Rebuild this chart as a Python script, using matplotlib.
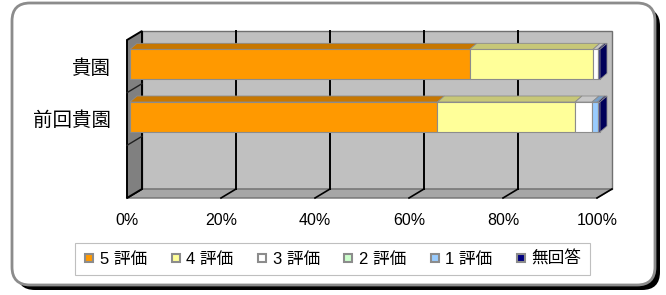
import numpy as np
import matplotlib.pyplot as plt
from matplotlib.patches import Polygon, FancyBboxPatch
from matplotlib.lines import Line2D
from matplotlib.transforms import IdentityTransform
from matplotlib.colors import to_rgb

plt.rcParams['font.family'] = ['Liberation Sans', 'Noto Sans CJK JP']

# data
categories = ['貴園', '前回貴園']
series_labels = ['5 評価', '4 評価', '3 評価', '2 評価', '1 評価', '無回答']
s5 = [72.3, 65.4]
s4 = [26.2, 29.3]
s3 = [1.0, 3.6]
s2 = [0.0, 0.0]
s1 = [0.0, 1.2]
s0 = [0.5, 0.5]
series = [s5, s4, s3, s2, s1, s0]
colors = ['#FF9900', '#FFFF99', '#FFFFFF', '#CCFFCC', '#99CCFF', '#000080']
xticks = [0, 20, 40, 60, 80, 100]

W, H = 666, 295
fig = plt.figure(figsize=(W / 100, H / 100), dpi=100)

# rounded frame with shadow (behind the axes)
shadow = FancyBboxPatch((17, H - 290), 643, 282, boxstyle='round,pad=0,rounding_size=18',
                        transform=IdentityTransform(), fc='black', ec='none', zorder=-2)
fig.add_artist(shadow)
frame = FancyBboxPatch((12, H - 285), 643, 282, boxstyle='round,pad=0,rounding_size=18',
                       transform=IdentityTransform(), fc='white', ec='#8c8c8c', lw=2, zorder=-1)
fig.add_artist(frame)

ax = fig.add_axes([127 / W, 1 - 198 / H, 470 / W, 158 / H])
ax.set_xlim(0, 100)
ax.set_ylim(2.5, -0.5)
ax.patch.set_visible(False)
for sp in ax.spines.values():
    sp.set_visible(False)

PX_X = 100 / 470
PX_Y = 3 / 158

# 3d walls
WDX, WDY = 15 * PX_X, -9 * PX_Y
def poly(pts, **kw):
    p = Polygon(pts, closed=True, clip_on=False, **kw)
    ax.add_patch(p)
    return p

poly([(WDX, -0.5 + WDY), (100 + WDX, -0.5 + WDY), (100 + WDX, 2.5 + WDY), (WDX, 2.5 + WDY)],
     fc='#c0c0c0', ec='#707070', lw=1, zorder=0)
poly([(0, 2.5), (100, 2.5), (100 + WDX, 2.5 + WDY), (WDX, 2.5 + WDY)],
     fc='#a6a6a6', ec='#707070', lw=1, zorder=0.5)
for t in xticks:
    if 0 < t < 100:
        ax.plot([t + WDX, t + WDX], [-0.5 + WDY, 2.5 + WDY], color='black', lw=1.4,
                zorder=1, clip_on=False)
    ax.plot([t + WDX, t], [2.5 + WDY, 2.5], color='black', lw=1.2, zorder=1, clip_on=False)
poly([(0, -0.5), (WDX, -0.5 + WDY), (WDX, 2.5 + WDY), (0, 2.5)],
     fc='#808080', ec='black', lw=1.4, zorder=1.5)
for yb in [0.5, 1.5]:
    ax.plot([0, WDX], [yb, yb + WDY], color='#202020', lw=1, zorder=1.6, clip_on=False)

# bars
BAR_H = 30 * PX_Y
BX, BY = 3 * PX_X, -2 * PX_Y
BDX, BDY = 7 * PX_X, -6 * PX_Y

def darker(c, f=0.78):
    r, g, b = to_rgb(c)
    return (r * f, g * f, b * f)

for i in range(len(categories)):
    yc = i + BY
    top, bot = yc - BAR_H / 2, yc + BAR_H / 2
    left = 0
    last = None
    for vals, c in zip(series, colors):
        w = vals[i]
        if w <= 0:
            continue
        ax.barh(yc, w, left=left + BX, height=BAR_H, color=c, edgecolor='#8c8c8c',
                lw=0.8, zorder=3, clip_on=False)
        x0, x1 = left + BX, left + w + BX
        poly([(x0, top), (x1, top), (x1 + BDX, top + BDY), (x0 + BDX, top + BDY)],
             fc=darker(c), ec='#8c8c8c', lw=0.6, zorder=3)
        left += w
        last = c
    xr = left + BX
    poly([(xr, top), (xr + BDX, top + BDY), (xr + BDX, bot + BDY), (xr, bot)],
         fc=darker(last, 0.7), ec='#8c8c8c', lw=0.6, zorder=3)

ax.set_xticks(xticks)
ax.set_xticklabels([f'{v}%' for v in xticks], fontsize=11.5)
ax.set_yticks(range(len(categories)))
ax.set_yticklabels(categories, fontsize=14)
ax.tick_params(axis='x', length=0, pad=11)
ax.tick_params(axis='y', length=0, pad=11.5)

handles = [Line2D([], [], ls='none', marker='s', ms=6, mfc=c, mec='#8c8c8c', mew=1.5)
           for c in colors]
leg = fig.legend(handles, series_labels, loc='center', bbox_to_anchor=(332.5 / W, 1 - 259 / H),
                 ncol=6, frameon=True, fancybox=False, edgecolor='#b0b0b0', fontsize=12,
                 handlelength=0.7, handletextpad=0.3, columnspacing=1.35, borderpad=0.5)
leg.get_frame().set_linewidth(0.8)

fig.savefig('out.png', dpi=100)
